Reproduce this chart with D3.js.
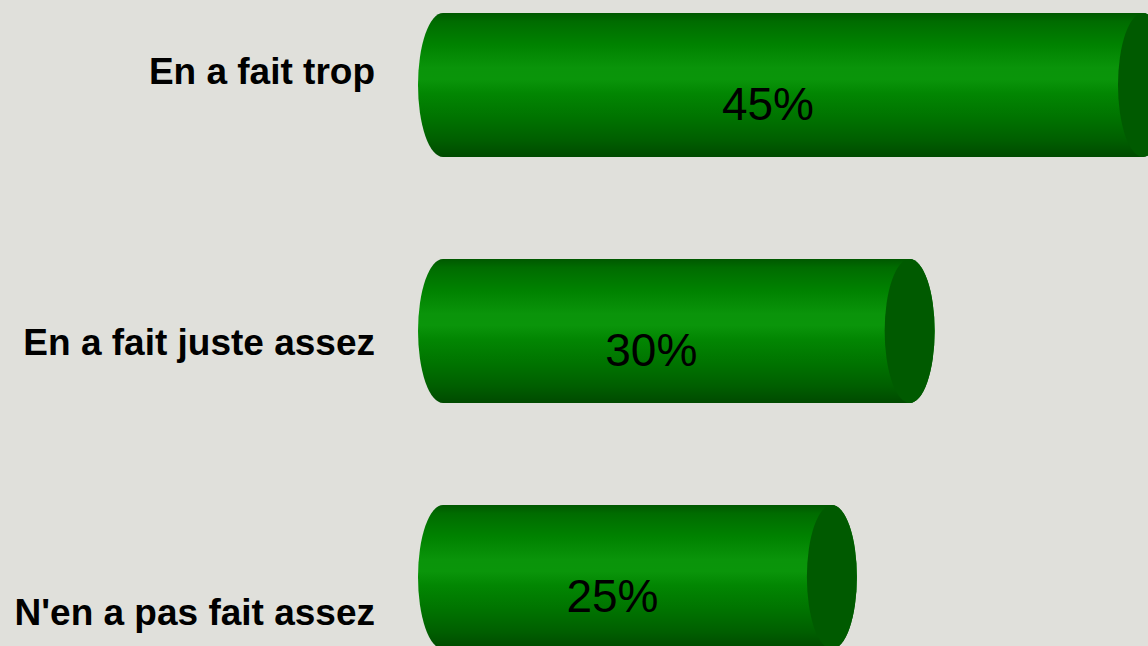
<!DOCTYPE html>
<html>
<head>
<meta charset="utf-8">
<script src="https://cdn.jsdelivr.net/npm/d3@7"></script>
<style>
  html, body { margin: 0; padding: 0; background: #e0e0db; }
  svg { display: block; }
</style>
</head>
<body>
<svg id="chart" width="1148" height="646"></svg>
<script>
const categories = ["En a fait trop", "En a fait juste assez", "N'en a pas fait assez"];
const values = [45, 30, 25];
const valueLabels = ["45%", "30%", "25%"];

const W = 1148, H = 646;
const svg = d3.select("#chart");
svg.append("rect").attr("width", W).attr("height", H).attr("fill", "#e0e0db");

const x = d3.scaleLinear().domain([0, 45]).range([443, 1143]);
const y = d3.scaleBand().domain(categories).range([13, 649]).paddingInner(0.4146).paddingOuter(0);
const yLabel = d3.scalePoint().domain(categories).range([84, 625]);
const rx = 25;

const defs = svg.append("defs");
const grad = defs.append("linearGradient").attr("id", "body")
  .attr("x1", 0).attr("y1", 0).attr("x2", 0).attr("y2", 1);
[[0, "#005800"], [0.06, "#006c00"], [0.22, "#008200"], [0.38, "#0a940a"], [0.46, "#0a950a"],
 [0.56, "#028602"], [0.72, "#007400"], [0.88, "#005f00"], [1, "#004a00"]]
  .forEach(([o, c]) => grad.append("stop").attr("offset", o).attr("stop-color", c));

const g = svg.append("g");
categories.forEach((c, i) => {
  const top = y(c), h = y.bandwidth(), bot = top + h, ry = h / 2, mid = top + ry;
  const x0 = x(0), x1 = x(values[i]);
  g.append("path")
    .attr("d", `M${x0},${top} L${x1},${top} A${rx},${ry} 0 0 1 ${x1},${bot} L${x0},${bot} A${rx},${ry} 0 0 1 ${x0},${top} Z`)
    .attr("fill", "url(#body)");
  g.append("ellipse")
    .attr("cx", x1).attr("cy", mid).attr("rx", rx).attr("ry", ry)
    .attr("fill", "#005a00");
  g.append("text")
    .attr("x", ((x0 - rx) + (x1 - rx)) / 2)
    .attr("y", mid + 35)
    .attr("text-anchor", "middle")
    .attr("font-family", "'Liberation Sans', Arial, sans-serif")
    .attr("font-size", 46)
    .attr("fill", "#000")
    .text(valueLabels[i]);
  g.append("text")
    .attr("x", 375)
    .attr("y", yLabel(c))
    .attr("text-anchor", "end")
    .attr("font-family", "'Liberation Sans', Arial, sans-serif")
    .attr("font-weight", "bold")
    .attr("font-size", 37)
    .attr("fill", "#000")
    .text(c);
});
</script>
</body>
</html>
